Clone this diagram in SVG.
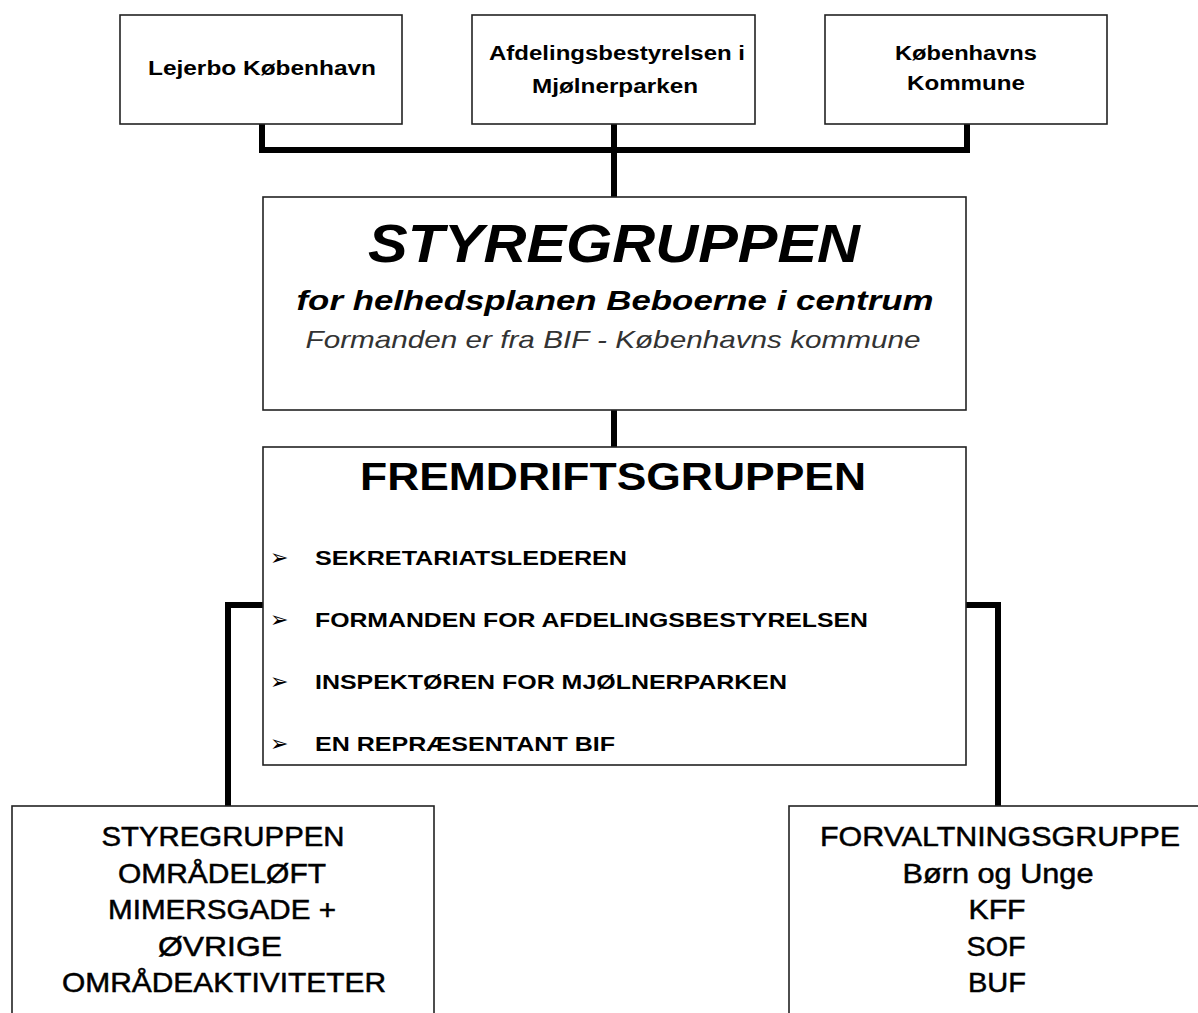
<svg xmlns="http://www.w3.org/2000/svg" width="1198" height="1013" viewBox="0 0 1198 1013">
<style>
.box{fill:#fff;stroke:#222;stroke-width:1.6}
.conn{fill:none;stroke:#000;stroke-width:6;stroke-linejoin:miter}
.top{font-family:"Liberation Sans",Arial,sans-serif;font-weight:bold;font-size:20px;fill:#000;text-anchor:middle}
.item{font-family:"Liberation Sans",Arial,sans-serif;font-weight:bold;font-size:20px;fill:#000}
.bul{font-family:"DejaVu Sans",sans-serif;font-size:22px;fill:#000}
.low{font-family:"Liberation Sans",Arial,sans-serif;font-size:28px;fill:#000;stroke:#000;stroke-width:0.5;text-anchor:middle}
</style>
<rect width="1198" height="1013" fill="#fff"/>
<g id="connectors">
<polyline class="conn" points="262,124 262,150 967,150 967,124"/>
<line class="conn" x1="614" y1="124" x2="614" y2="198"/>
<line class="conn" x1="614" y1="410" x2="614" y2="448"/>
<polyline class="conn" points="264,605 228,605 228,808"/>
<polyline class="conn" points="966,605 998,605 998,808"/>
</g>
<g id="lejerbo">
<rect class="box" x="120" y="15" width="282" height="109"/>
<text class="top" x="262" y="75" textLength="228" lengthAdjust="spacingAndGlyphs">Lejerbo København</text>
</g>
<g id="afdelingsbestyrelsen">
<rect class="box" x="472" y="15" width="283" height="109"/>
<text class="top" x="617" y="60" textLength="256" lengthAdjust="spacingAndGlyphs">Afdelingsbestyrelsen i</text>
<text class="top" x="615" y="93" textLength="166" lengthAdjust="spacingAndGlyphs">Mjølnerparken</text>
</g>
<g id="kobenhavns-kommune">
<rect class="box" x="825" y="15" width="282" height="109"/>
<text class="top" x="966" y="60" textLength="142" lengthAdjust="spacingAndGlyphs">Københavns</text>
<text class="top" x="966" y="90" textLength="118" lengthAdjust="spacingAndGlyphs">Kommune</text>
</g>
<g id="styregruppen">
<rect class="box" x="263" y="197" width="703" height="213"/>
<text x="614" y="262" text-anchor="middle" font-family="Liberation Sans,Arial,sans-serif" font-style="italic" font-weight="bold" font-size="54" textLength="492" lengthAdjust="spacingAndGlyphs">STYREGRUPPEN</text>
<text x="615" y="310" text-anchor="middle" font-family="Liberation Sans,Arial,sans-serif" font-style="italic" font-weight="bold" font-size="28" textLength="637" lengthAdjust="spacingAndGlyphs">for helhedsplanen Beboerne i centrum</text>
<text x="613" y="348" text-anchor="middle" font-family="Liberation Sans,Arial,sans-serif" font-style="italic" font-size="24" fill="#333" textLength="615" lengthAdjust="spacingAndGlyphs">Formanden er fra BIF - Københavns kommune</text>
</g>
<g id="fremdriftsgruppen">
<rect class="box" x="263" y="447" width="703" height="318"/>
<text x="613" y="490" text-anchor="middle" font-family="Liberation Sans,Arial,sans-serif" font-weight="bold" font-size="39" textLength="506" lengthAdjust="spacingAndGlyphs">FREMDRIFTSGRUPPEN</text>
<text class="bul" x="270" y="565">➢</text>
<text class="item" x="315" y="565" textLength="312" lengthAdjust="spacingAndGlyphs">SEKRETARIATSLEDEREN</text>
<text class="bul" x="270" y="627">➢</text>
<text class="item" x="315" y="627" textLength="553" lengthAdjust="spacingAndGlyphs">FORMANDEN FOR AFDELINGSBESTYRELSEN</text>
<text class="bul" x="270" y="689">➢</text>
<text class="item" x="315" y="689" textLength="472" lengthAdjust="spacingAndGlyphs">INSPEKTØREN FOR MJØLNERPARKEN</text>
<text class="bul" x="270" y="751">➢</text>
<text class="item" x="315" y="751" textLength="300" lengthAdjust="spacingAndGlyphs">EN REPRÆSENTANT BIF</text>
</g>
<g id="styregruppen-omraadeloeft">
<rect class="box" x="12" y="806" width="422" height="220"/>
<text class="low" x="223" y="846" textLength="243" lengthAdjust="spacingAndGlyphs">STYREGRUPPEN</text>
<text class="low" x="222" y="883" textLength="208" lengthAdjust="spacingAndGlyphs">OMRÅDELØFT</text>
<text class="low" x="222" y="919" textLength="228" lengthAdjust="spacingAndGlyphs">MIMERSGADE +</text>
<text class="low" x="220" y="956" textLength="124" lengthAdjust="spacingAndGlyphs">ØVRIGE</text>
<text class="low" x="224" y="992" textLength="324" lengthAdjust="spacingAndGlyphs">OMRÅDEAKTIVITETER</text>
</g>
<g id="forvaltningsgruppe">
<rect class="box" x="789" y="806" width="430" height="220"/>
<text class="low" x="1000" y="846" textLength="360" lengthAdjust="spacingAndGlyphs">FORVALTNINGSGRUPPE</text>
<text class="low" x="998" y="883" textLength="191" lengthAdjust="spacingAndGlyphs">Børn og Unge</text>
<text class="low" x="997" y="919" textLength="57" lengthAdjust="spacingAndGlyphs">KFF</text>
<text class="low" x="996" y="956" textLength="59" lengthAdjust="spacingAndGlyphs">SOF</text>
<text class="low" x="997" y="992" textLength="58" lengthAdjust="spacingAndGlyphs">BUF</text>
</g>
</svg>
